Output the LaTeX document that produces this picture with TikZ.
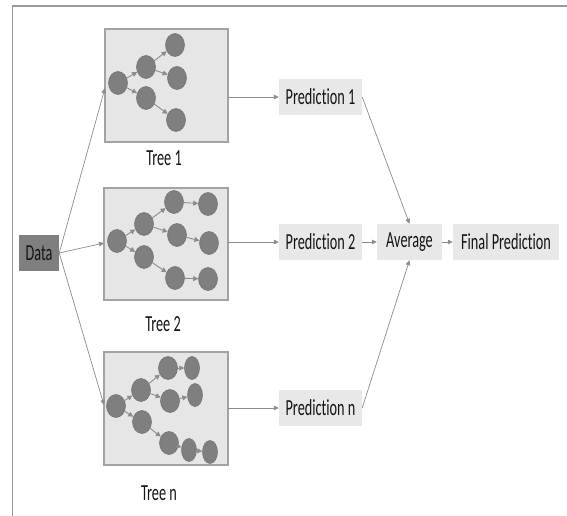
\documentclass[tikz,border=0pt]{standalone}
\usepackage{fontspec}
\usetikzlibrary{arrows.meta,shapes.geometric,calc}
\newfontfamily\lblfont[FakeStretch=0.62,Ligatures=NoCommon]{Carlito}
\definecolor{framegray}{HTML}{9A9A9A}
\definecolor{boxfill}{HTML}{E6E6E6}
\definecolor{boxline}{HTML}{A3A3A3}
\definecolor{nodefill}{HTML}{7F7F7F}
\definecolor{nodeline}{HTML}{707070}
\definecolor{predfill}{HTML}{E8E8E8}
\definecolor{arrowgray}{HTML}{8C8C8C}
\definecolor{txt}{HTML}{141414}
\begin{document}
\begin{tikzpicture}[x=1pt,y=-1pt,
  lbl/.style={font=\lblfont\fontsize{23}{26}\selectfont, text=txt},
  treebox/.style={draw=boxline, line width=1.4pt, fill=boxfill, inner sep=0pt},
  circ/.style={ellipse, fill=nodefill, draw=nodeline, line width=0.5pt,
    minimum width=19pt, minimum height=23pt, inner sep=0pt},
  narrow/.style={circ, minimum width=15pt},
  predbox/.style={lbl, fill=predfill, inner sep=0pt, minimum height=36pt},
  databox/.style={lbl, fill=nodefill, inner sep=0pt, minimum width=40pt, minimum height=36pt},
  conn/.style={draw=arrowgray, line width=0.7pt,
    -{Triangle[length=5pt,width=4.5pt]}},
  tconn/.style={draw=arrowgray, line width=0.9pt,
    -{Triangle[length=5pt,width=5pt]}}
]
\useasboundingbox (0,0) rectangle (567,516);
\fill[white] (0,0) rectangle (567,516);

% outer frame (top and left edges)
\draw[framegray, line width=2pt] (12,6.5) -- (567,6.5);
\draw[framegray, line width=1.3pt] (12.5,6) -- (12.5,516);

% input
\node[databox] (data) at (39,253) {Data};

% tree panels
\path[treebox] (105,29) rectangle (228,142);
\coordinate (t1w) at (105,88);
\coordinate (t1e) at (228,97);
\path[treebox] (104,188) rectangle (228,300);
\coordinate (t2w) at (104,243);
\coordinate (t2e) at (228,242);
\path[treebox] (104,352) rectangle (228,465);
\coordinate (tnw) at (104,405);
\coordinate (tne) at (228,408);

\node[lbl] (l1) at (164,158) {Tree 1};
\node[lbl] (l2) at (163,324) {Tree 2};
\node[lbl] (ln) at (159,493) {Tree n};

% tree 1
\node[circ] (ar) at (118,83) {};
\node[circ] (aa) at (146,67) {};
\node[circ] (ab) at (146,98) {};
\node[circ] (aa1) at (175,45) {};
\node[circ] (aa2) at (177,78) {};
\node[circ] (ab1) at (176,120) {};
\foreach \s/\t in {ar/aa, ar/ab, aa/aa1, aa/aa2, ab/ab1}
  \draw[tconn] (\s) -- (\t);

% tree 2
\node[circ] (br) at (117,241) {};
\node[circ] (ba) at (144,224) {};
\node[circ] (bb) at (144,257) {};
\node[circ] (ba1) at (174,202) {};
\node[circ] (ba2) at (177,235) {};
\node[circ] (bb1) at (175,278) {};
\node[circ] (ba1x) at (208,204) {};
\node[circ] (ba2x) at (209,243) {};
\node[circ] (bb1x) at (208,279) {};
\foreach \s/\t in {br/ba, br/bb, ba/ba1, ba/ba2, bb/bb1, ba1/ba1x, ba2/ba2x, bb1/bb1x}
  \draw[tconn] (\s) -- (\t);

% tree n
\node[circ] (cr) at (116,406) {};
\node[circ] (ca) at (141,390) {};
\node[circ] (cb) at (142,422) {};
\node[circ] (ca1) at (168,368) {};
\node[circ] (ca2) at (170,401) {};
\node[circ] (cb1) at (169,443) {};
\node[narrow] (ca1x) at (192,368) {};
\node[narrow] (ca2x) at (195,395) {};
\node[narrow] (cb1x) at (189,450) {};
\node[narrow] (cb1y) at (210,452) {};
\foreach \s/\t in {cr/ca, cr/cb, ca/ca1, ca/ca2, cb/cb1, ca1/ca1x, ca2/ca2x, cb1/cb1x, cb1x/cb1y}
  \draw[tconn] (\s) -- (\t);

% predictions and aggregation
\node[predbox, minimum width=83pt] (p1) at (320.5,97) {Prediction 1};
\node[predbox, minimum width=83pt] (p2) at (320.5,242) {Prediction 2};
\node[predbox, minimum width=83pt] (pn) at (320.5,408) {Prediction n};
\node[predbox, minimum width=65pt] (avg) at (409.5,242) {Average};
\node[predbox, minimum width=106pt] (fin) at (506,242) {Final Prediction};

% connectors
\draw[conn] (data.east) -- (t1w);
\draw[conn] (data.east) -- (t2w);
\draw[conn] (data.east) -- (tnw);
\draw[conn] (t1e) -- (p1.west);
\draw[conn] (t2e) -- (p2.west);
\draw[conn] (tne) -- (pn.west);
\draw[conn] (p1.east) -- (avg.north);
\draw[conn] (p2.east) -- (avg.west);
\draw[conn] (pn.east) -- (avg.south);
\draw[conn] (avg.east) -- (fin.west);
\end{tikzpicture}
\end{document}
